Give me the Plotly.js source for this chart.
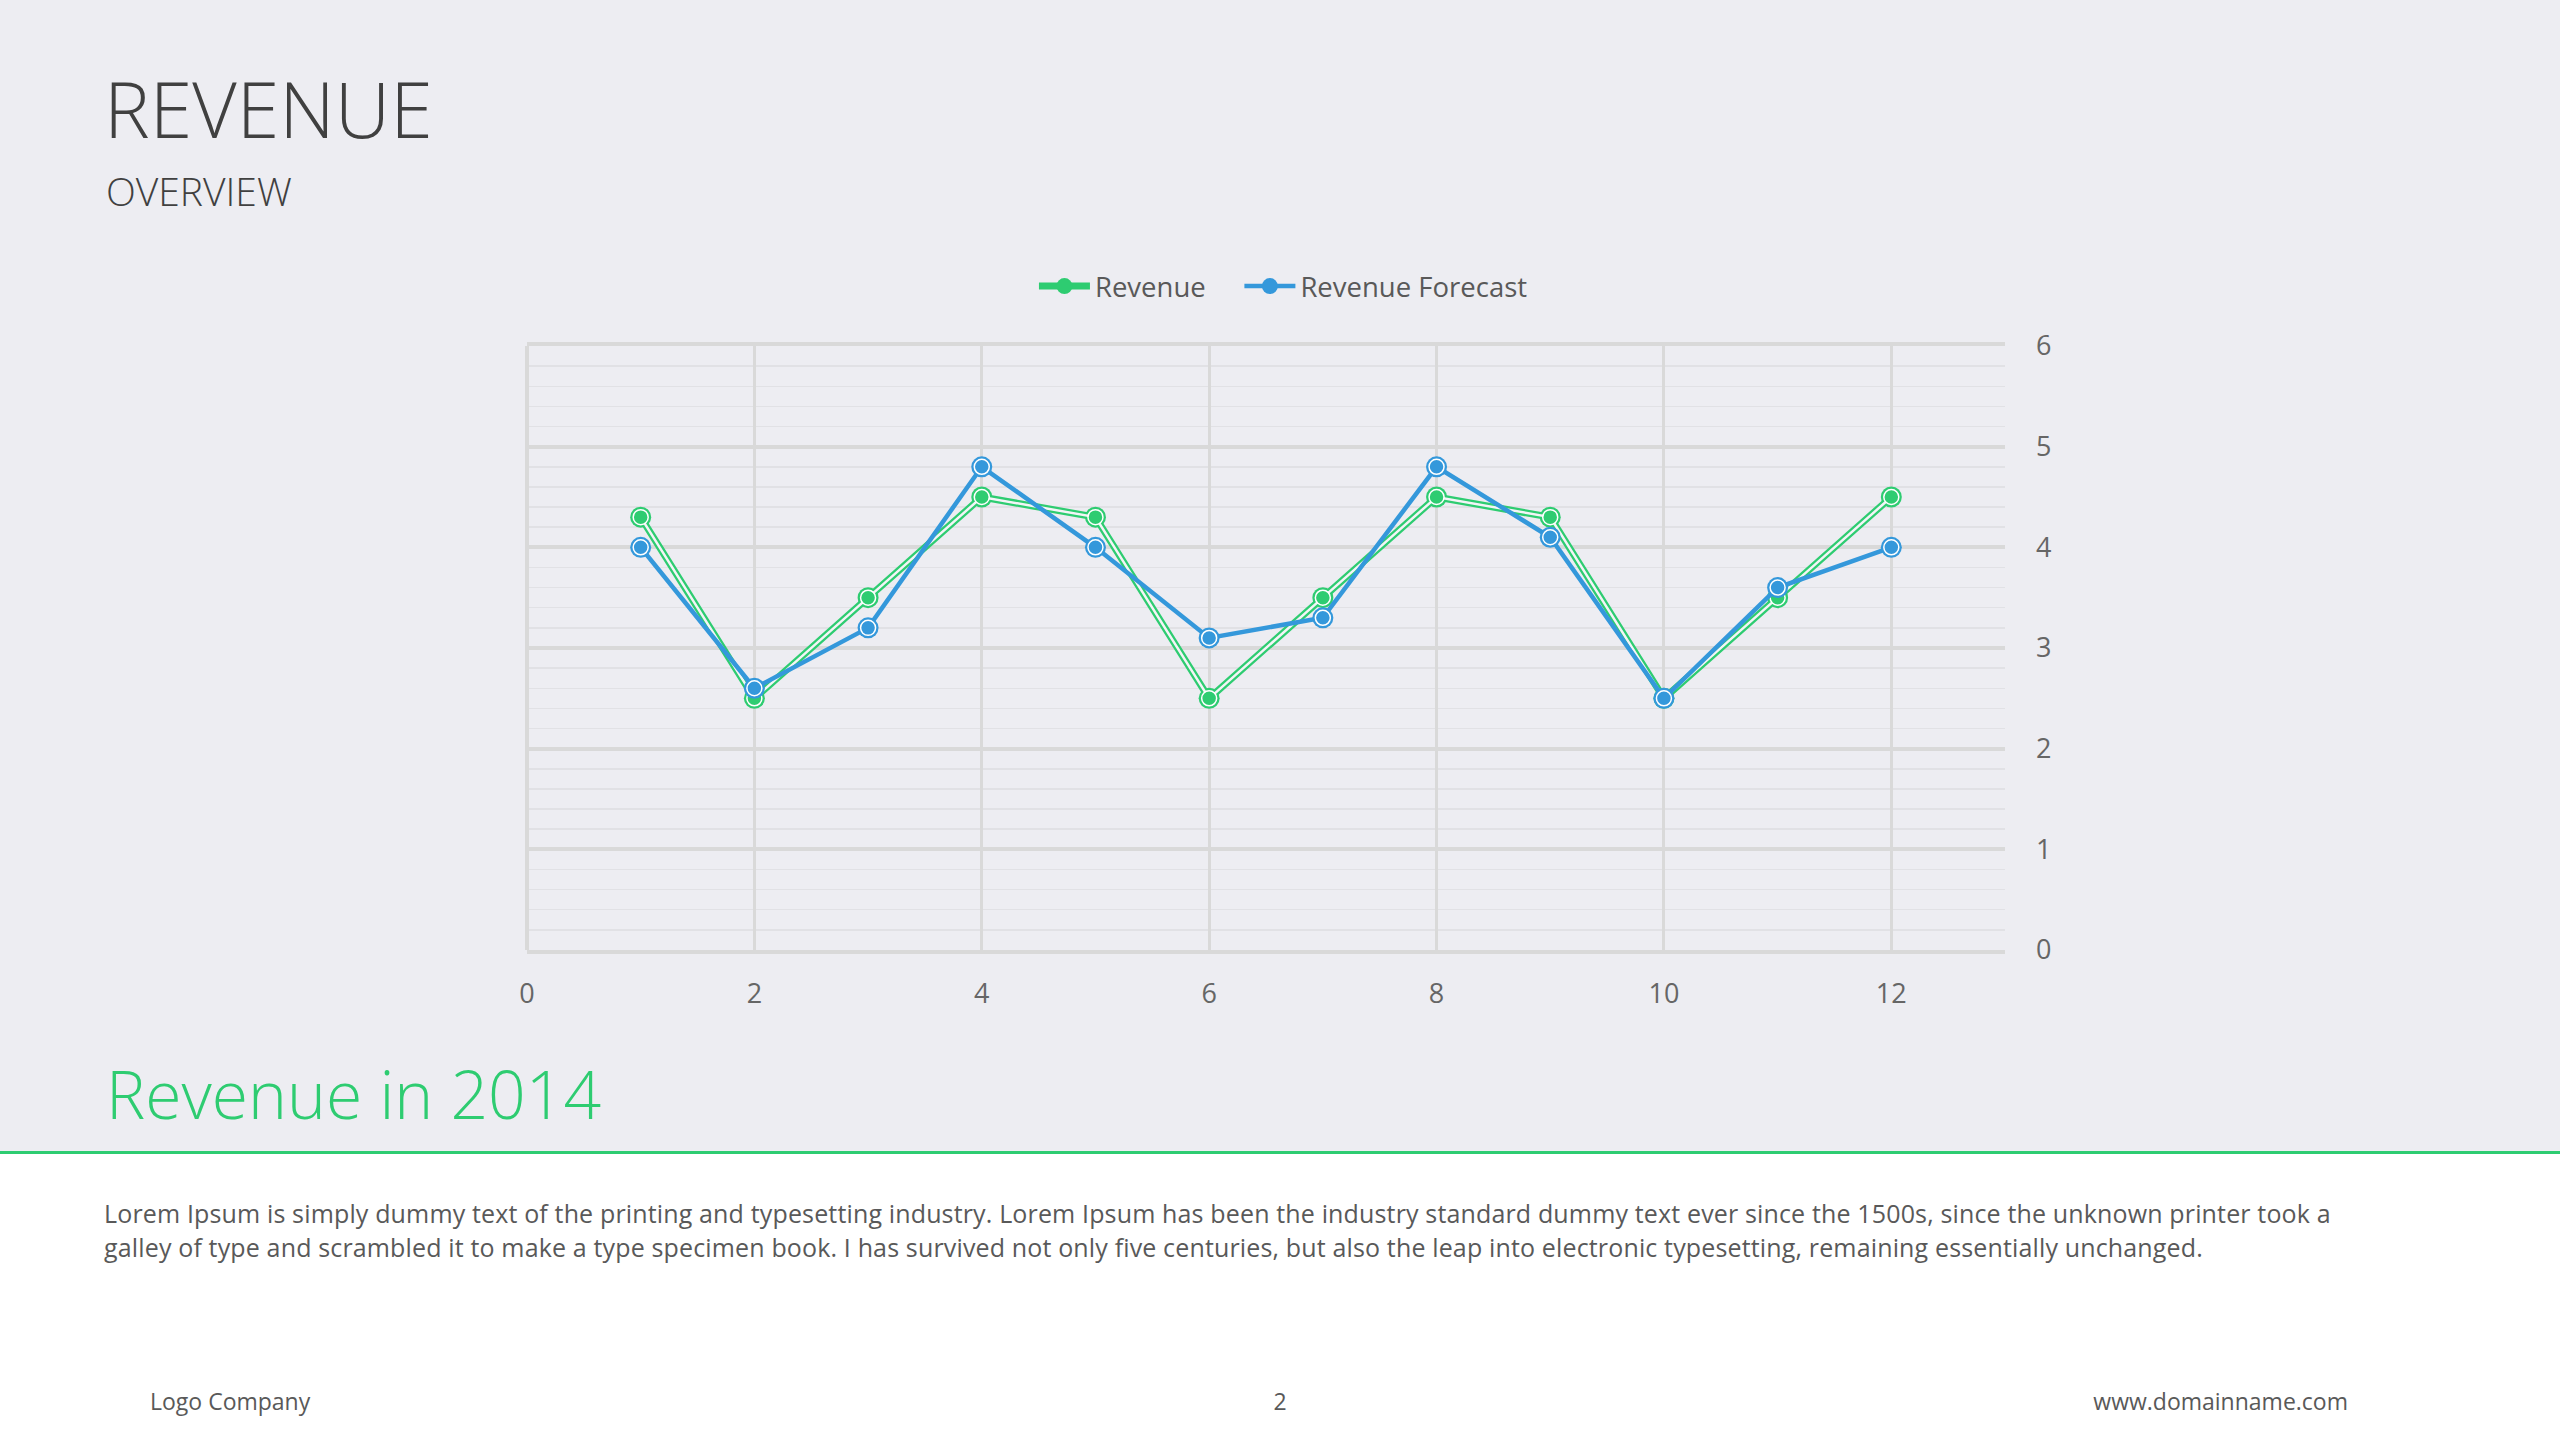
<!DOCTYPE html>
<html>
<head>
<meta charset="utf-8">
<script src="https://cdn.plot.ly/plotly-3.0.1.min.js"></script>
<style>
  html, body { margin:0; padding:0; }
  body { width:2560px; height:1440px; position:relative; overflow:hidden; background:#EDEDF2; font-family:"Open Sans", sans-serif; }
  .abs { position:absolute; white-space:nowrap; }
  #bottom { position:absolute; left:0; top:1151px; width:2560px; height:289px; background:#FFFFFF; border-top:3px solid #2ECC71; box-sizing:border-box; }
  #chart { position:absolute; left:0; top:0; width:2560px; height:1150px; }
</style>
</head>
<body>
<div id="bottom"></div>
<div class="abs" id="t1" style="left:104px; top:70px; font-size:77px; line-height:77px; font-weight:300; color:#404040;">REVENUE</div>
<div class="abs" id="t2" style="left:106px; top:171px; font-size:39px; line-height:39px; font-weight:300; color:#404040;">OVERVIEW</div>
<div class="abs" id="t3" style="left:106px; top:1060px; font-size:66px; line-height:66px; font-weight:300; color:#2ECC71;">Revenue in 2014</div>
<div class="abs" id="body" style="left:104px; top:1196px; font-size:25px; line-height:34px; letter-spacing:0.15px; color:#595959;">Lorem Ipsum is simply dummy text of the printing and typesetting industry. Lorem Ipsum has been the industry standard dummy text ever since the 1500s, since the unknown printer took a<br>galley of type and scrambled it to make a type specimen book. I has survived not only five centuries, but also the leap into electronic typesetting, remaining essentially unchanged.</div>
<div class="abs" style="left:150px; top:1386px; font-size:23px; line-height:30px; color:#595959;">Logo Company</div>
<div class="abs" style="left:1230px; width:100px; text-align:center; top:1386px; font-size:23px; line-height:30px; color:#595959;">2</div>
<div class="abs" style="right:212px; top:1386px; font-size:23px; line-height:30px; color:#595959;">www.domainname.com</div>
<div id="chart"></div>
<script>
const months = [1, 2, 3, 4, 5, 6, 7, 8, 9, 10, 11, 12];
const revenue = [4.3, 2.5, 3.5, 4.5, 4.3, 2.5, 3.5, 4.5, 4.3, 2.5, 3.5, 4.5];
const forecast = [4.0, 2.6, 3.2, 4.8, 4.0, 3.1, 3.3, 4.8, 4.1, 2.5, 3.6, 4.0];
const seriesNames = ["Revenue", "Revenue Forecast"];
const xTicks = [0, 2, 4, 6, 8, 10, 12];
const yTicks = [0, 1, 2, 3, 4, 5, 6];

const GREEN = "#2ECC71";
const BLUE = "#3498DB";
const GAP = "#F4F4F7";

const traces = [
  { x: months, y: revenue, name: seriesNames[0], mode: "lines+markers", type: "scatter",
    line: { color: GREEN, width: 7 }, marker: { color: GREEN, size: 21 }, legend: "legend" },
  { x: months, y: revenue, mode: "lines", type: "scatter", showlegend: false, hoverinfo: "skip",
    line: { color: GAP, width: 2.5 } },
  { x: months, y: revenue, mode: "markers", type: "scatter", showlegend: false, hoverinfo: "skip",
    marker: { color: GREEN, size: 15, line: { color: "#FFFFFF", width: 1.5 } } },
  { x: months, y: forecast, name: seriesNames[1], mode: "lines+markers", type: "scatter",
    line: { color: BLUE, width: 4.5 }, marker: { color: BLUE, size: 21 }, legend: "legend2" },
  { x: months, y: forecast, mode: "markers", type: "scatter", showlegend: false, hoverinfo: "skip",
    marker: { color: BLUE, size: 15, line: { color: "#FFFFFF", width: 1.5 } } }
];

const legendBase = { orientation: "h", yanchor: "middle", y: 1.099, xanchor: "left",
  font: { size: 27.5, color: "#595959" }, bgcolor: "rgba(0,0,0,0)", itemwidth: 51 };

const layout = {
  width: 2560, height: 1150,
  paper_bgcolor: "rgba(0,0,0,0)", plot_bgcolor: "rgba(0,0,0,0)",
  margin: { l: 527, r: 555, t: 346, b: 200, pad: 0 },
  font: { family: "Open Sans, sans-serif", size: 27, color: "#666666" },
  showlegend: true,
  legend: Object.assign({}, legendBase, { x: 0.343 }),
  legend2: Object.assign({}, legendBase, { x: 0.482 }),
  xaxis: {
    range: [0, 13], tickvals: xTicks, ticktext: xTicks.map(String),
    showgrid: true, gridcolor: "#D9D9D9", gridwidth: 3,
    zeroline: true, zerolinecolor: "#D9D9D9", zerolinewidth: 4,
    showline: true, linecolor: "#D9D9D9", linewidth: 4, mirror: true,
    ticks: "", ticklabelstandoff: 17,
    tickfont: { size: 27, color: "#666666" }, fixedrange: true
  },
  yaxis: {
    range: [0, 6], tickvals: yTicks, ticktext: yTicks.map(String), side: "right",
    showgrid: true, gridcolor: "#D9D9D9", gridwidth: 4,
    zeroline: false,
    minor: { dtick: 0.2, showgrid: true, gridcolor: "#E1E1E5", gridwidth: 1.5, ticks: "" },
    showline: false, ticks: "", ticklabelstandoff: 30,
    tickfont: { size: 27, color: "#666666" }, fixedrange: true
  },
  hovermode: false
};

Plotly.newPlot("chart", traces, layout, { displayModeBar: false, staticPlot: true });
</script>
</body>
</html>
